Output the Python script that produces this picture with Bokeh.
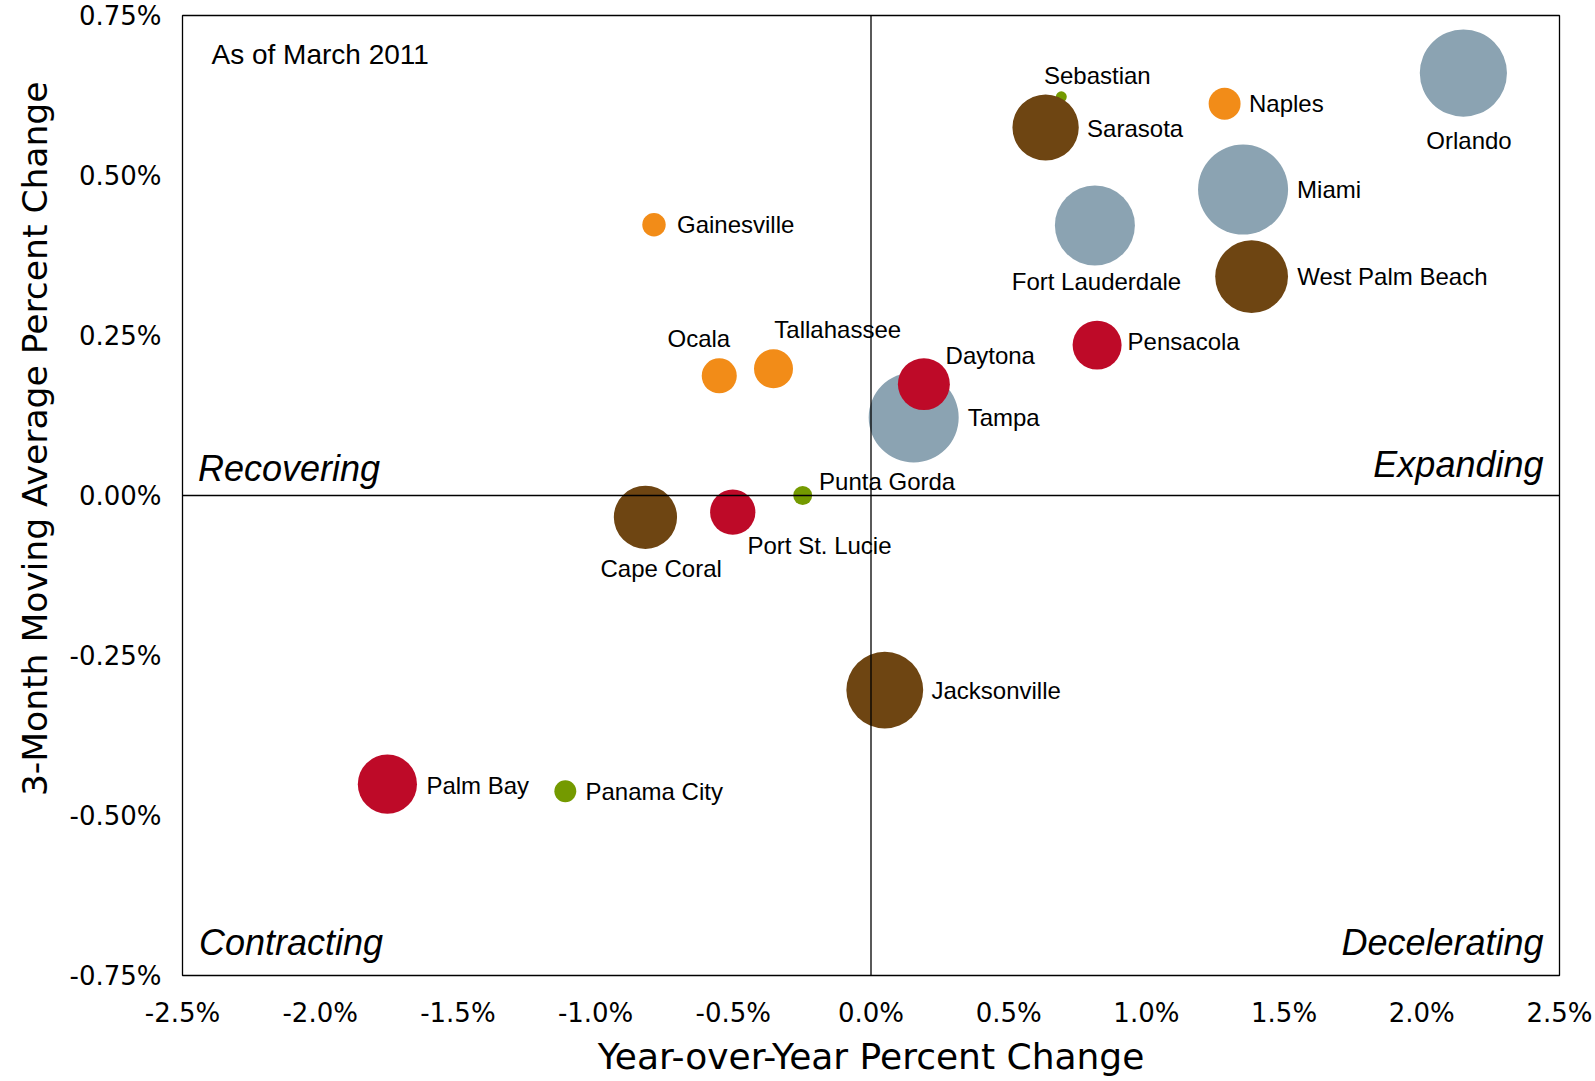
import math
from bokeh.plotting import figure
from bokeh.models import ColumnDataSource, Span, Label, FixedTicker, Range1d, Title
from bokeh.embed import file_html
from bokeh.resources import INLINE
from bokeh.core.properties import value

# ---------------- data ----------------
cities = ["Orlando", "Naples", "Sebastian", "Sarasota", "Miami", "Fort Lauderdale",
          "West Palm Beach", "Gainesville", "Pensacola", "Ocala", "Tallahassee",
          "Daytona", "Tampa", "Punta Gorda", "Cape Coral", "Port St. Lucie",
          "Jacksonville", "Palm Bay", "Panama City"]
yoy_change = [2.151, 1.284, 0.691, 0.634, 1.351, 0.813,
              1.382, -0.788, 0.821, -0.551, -0.354,
              0.192, 0.155, -0.248, -0.819, -0.502,
              0.050, -1.756, -1.110]
mavg_change = [0.660, 0.612, 0.623, 0.575, 0.478, 0.422,
               0.342, 0.423, 0.235, 0.187, 0.198,
               0.174, 0.122, 0.000, -0.034, -0.026,
               -0.304, -0.451, -0.462]
# relative employment (bubble area)
employment = [76, 10.2, 1.2, 44, 81, 64,
              53, 5.5, 24, 12.3, 15.2,
              27, 81, 3.6, 40, 20.5,
              59, 35, 4.8]
tier = ["blue", "orange", "green", "brown", "blue", "blue",
        "brown", "orange", "red", "orange", "orange",
        "red", "blue", "green", "brown", "red",
        "brown", "red", "green"]

x_ticks = [-2.5, -2.0, -1.5, -1.0, -0.5, 0.0, 0.5, 1.0, 1.5, 2.0, 2.5]
x_tick_labels = ["-2.5%", "-2.0%", "-1.5%", "-1.0%", "-0.5%", "0.0%",
                 "0.5%", "1.0%", "1.5%", "2.0%", "2.5%"]
y_ticks = [-0.75, -0.5, -0.25, 0.0, 0.25, 0.5, 0.75]
y_tick_labels = ["-0.75%", "-0.50%", "-0.25%", "0.00%", "0.25%", "0.50%", "0.75%"]

quadrants = ["Recovering", "Expanding", "Contracting", "Decelerating"]
note = "As of March 2011"
x_title = "Year-over-Year Percent Change"
y_title = "3-Month Moving Average Percent Change"

# ---------------- styles ----------------
palette = {"blue": "#8BA3B2", "brown": "#6E4512", "red": "#BE0A28",
           "orange": "#F28C18", "green": "#749A00"}
draw_order = ["green", "blue", "brown", "red", "orange"]

label_style = {
    "Orlando": ("center", 5.6, 67.3),
    "Naples": ("left", 24.4, 0),
    "Sebastian": ("center", 36, -21),
    "Sarasota": ("left", 41.5, 1),
    "Miami": ("left", 54, 0),
    "Fort Lauderdale": ("center", 1.6, 55.7),
    "West Palm Beach": ("left", 45.6, 0),
    "Gainesville": ("left", 23, 0),
    "Pensacola": ("left", 30.5, -4),
    "Ocala": ("center", -20.4, -37),
    "Tallahassee": ("center", 64.2, -39),
    "Daytona": ("left", 21.7, -28.7),
    "Tampa": ("left", 54, 0),
    "Punta Gorda": ("left", 16.4, -14),
    "Cape Coral": ("center", 15.7, 51.6),
    "Port St. Lucie": ("left", 14.7, 33.3),
    "Jacksonville": ("left", 46.7, 0),
    "Palm Bay": ("left", 39, 1),
    "Panama City": ("left", 20.2, 0),
}

FRAME_W, FRAME_H = 1377, 960

p = figure(frame_width=FRAME_W, frame_height=FRAME_H,
           min_border_left=182, min_border_right=34,
           min_border_top=15, min_border_bottom=104,
           x_range=Range1d(-2.5, 2.5), y_range=Range1d(-0.75, 0.75),
           output_backend="svg", toolbar_location=None,
           background_fill_color="white", border_fill_color="white")
p.grid.visible = False
p.outline_line_color = "black"
p.outline_line_width = 1.3

for ax in (p.xaxis[0], p.yaxis[0]):
    ax.axis_line_color = None
    ax.major_tick_line_color = None
    ax.minor_tick_line_color = None
    ax.major_label_text_font = "DejaVu Sans"
    ax.major_label_text_font_size = "26px"
    ax.major_label_text_color = "black"

p.xaxis[0].ticker = FixedTicker(ticks=x_ticks)
p.xaxis[0].major_label_overrides = dict(zip(x_ticks, x_tick_labels))
p.xaxis[0].major_label_standoff = 16
p.xaxis[0].axis_label = x_title
p.xaxis[0].axis_label_text_font = "DejaVu Sans"
p.xaxis[0].axis_label_text_font_style = "normal"
p.xaxis[0].axis_label_text_font_size = "36px"
p.xaxis[0].axis_label_text_color = "black"
p.xaxis[0].axis_label_standoff = 5

p.yaxis[0].ticker = FixedTicker(ticks=y_ticks)
p.yaxis[0].major_label_overrides = dict(zip(y_ticks, y_tick_labels))
p.yaxis[0].major_label_standoff = 15

# y axis title, shifted toward the top like the original
p.add_layout(Title(text=y_title, align="right", offset=66, standoff=23,
                   text_font="DejaVu Sans", text_font_style="normal",
                   text_font_size="34.5px", text_color="black"), "left")

# zero lines
p.add_layout(Span(location=0, dimension="width", line_color="black", line_width=1.3))
p.add_layout(Span(location=0, dimension="height", line_color="black", line_width=1.3))

# bubbles
idx = sorted(range(len(cities)), key=lambda i: draw_order.index(tier[i]))
bub = ColumnDataSource(dict(
    x=[yoy_change[i] for i in idx],
    y=[mavg_change[i] for i in idx],
    d=[10 * math.sqrt(employment[i]) for i in idx],
    c=[palette[tier[i]] for i in idx],
))
p.scatter("x", "y", size="d", fill_color="c", line_color=None, source=bub)

# city labels
for align in ("left", "center"):
    ii = [i for i in range(len(cities)) if label_style[cities[i]][0] == align]
    src = ColumnDataSource(dict(
        x=[yoy_change[i] for i in ii],
        y=[mavg_change[i] for i in ii],
        t=[cities[i] for i in ii],
        dx=[label_style[cities[i]][1] for i in ii],
        dy=[label_style[cities[i]][2] for i in ii],
    ))
    p.text("x", "y", text="t", x_offset="dx", y_offset="dy", source=src,
           text_align=align, text_baseline="middle",
           text_font=value("Liberation Sans"), text_font_size="24px",
           text_color="black")

# quadrant labels (screen units relative to frame's bottom-left)
quad_pos = [(15.5, 507, "left"), (1361, 511, "right"), (16.5, 33, "left"), (1361, 33, "right")]
for txt, (qx, qy, qa) in zip(quadrants, quad_pos):
    p.add_layout(Label(x=qx, y=qy, x_units="screen", y_units="screen", text=txt,
                       text_align=qa, text_baseline="alphabetic",
                       text_font="Liberation Sans", text_font_style="italic",
                       text_font_size="36px", text_color="black"))

p.add_layout(Label(x=29, y=921, x_units="screen", y_units="screen", text=note,
                   text_align="left", text_baseline="alphabetic",
                   text_font="Liberation Sans", text_font_size="28px", text_color="black"))

open("out.html", "w").write(file_html(p, INLINE))
